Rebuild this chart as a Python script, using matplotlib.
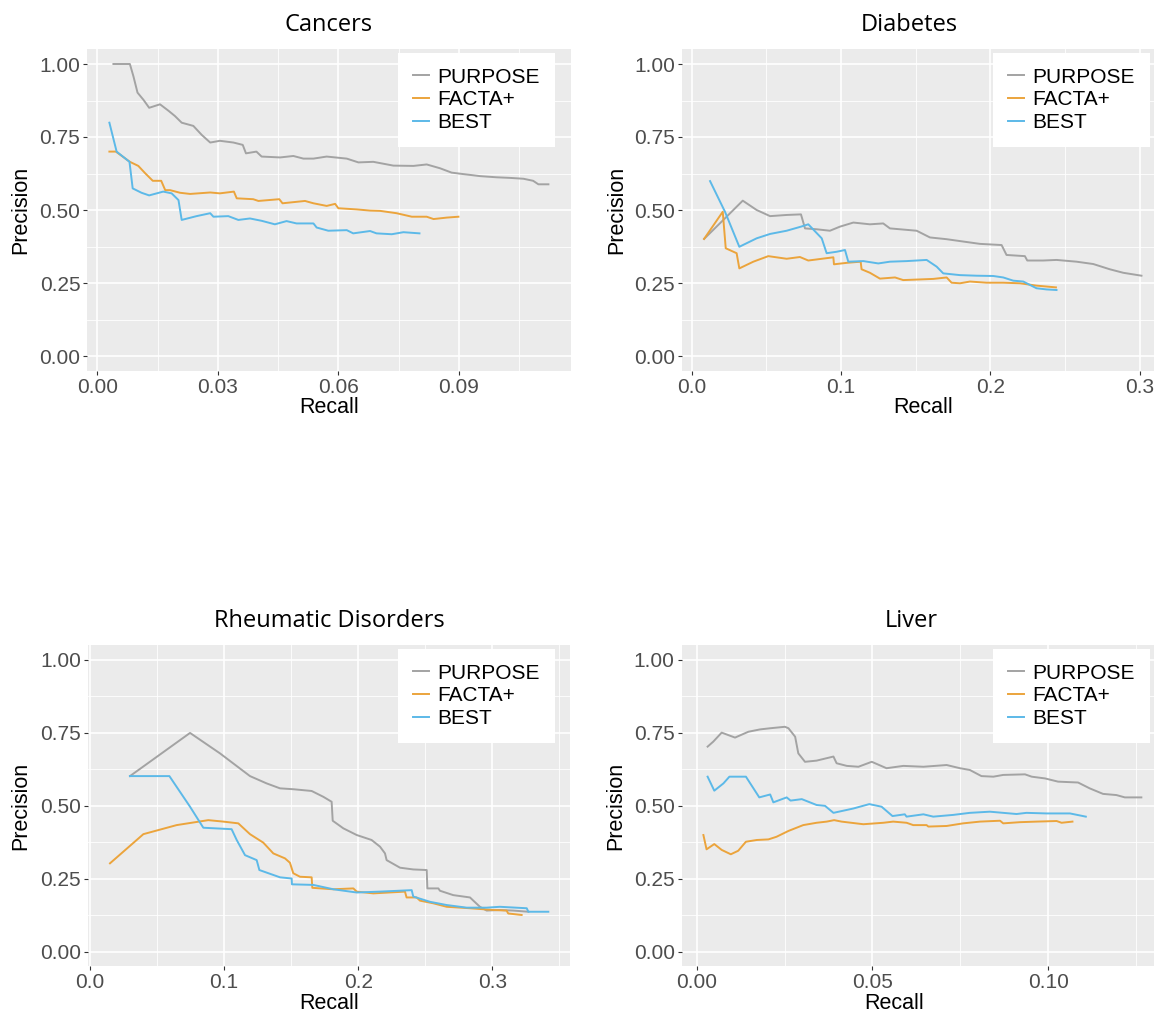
import numpy as np
import matplotlib
matplotlib.use('Agg')
import matplotlib.pyplot as plt

plt.rcParams['font.family'] = ['Liberation Sans', 'DejaVu Sans']

# --- data (recall, precision) ---

methods = ['PURPOSE', 'FACTA+', 'BEST']
colors = ['#a3a3a3', '#eba43c', '#5cb9e8']
titles = ['Cancers', 'Diabetes', 'Rheumatic Disorders', 'Liver']

cancers_purpose_r = [0.0040, 0.0081, 0.0090, 0.0100, 0.0115, 0.0129, 0.0156, 0.0177, 0.0193, 0.0210,
                     0.0239, 0.0260, 0.0281, 0.0305, 0.0339, 0.0362, 0.0370, 0.0396, 0.0409, 0.0455,
                     0.0488, 0.0513, 0.0538, 0.0571, 0.0621, 0.0650, 0.0687, 0.0737, 0.0787, 0.0820,
                     0.0853, 0.0882, 0.0911, 0.0953, 0.0994, 0.1027, 0.1061, 0.1085, 0.1098, 0.1123]
cancers_purpose_p = [1.000, 1.000, 0.957, 0.902, 0.877, 0.850, 0.862, 0.840, 0.822, 0.799,
                     0.788, 0.757, 0.731, 0.737, 0.731, 0.723, 0.694, 0.700, 0.683, 0.680,
                     0.685, 0.676, 0.676, 0.683, 0.676, 0.663, 0.665, 0.652, 0.651, 0.656,
                     0.643, 0.628, 0.623, 0.616, 0.612, 0.610, 0.607, 0.600, 0.588, 0.588]
cancers_facta_r = [0.0030, 0.0046, 0.0081, 0.0102, 0.0119, 0.0138, 0.0159, 0.0169, 0.0181, 0.0206,
                   0.0231, 0.0281, 0.0305, 0.0340, 0.0347, 0.0388, 0.0401, 0.0453, 0.0461, 0.0517,
                   0.0538, 0.0571, 0.0592, 0.0600, 0.0646, 0.0679, 0.0704, 0.0745, 0.0783, 0.0820,
                   0.0837, 0.0870, 0.0899]
cancers_facta_p = [0.700, 0.700, 0.665, 0.651, 0.626, 0.600, 0.600, 0.568, 0.568, 0.559,
                   0.555, 0.560, 0.557, 0.563, 0.540, 0.537, 0.531, 0.537, 0.523, 0.531,
                   0.523, 0.514, 0.521, 0.506, 0.502, 0.498, 0.497, 0.489, 0.477, 0.477,
                   0.469, 0.474, 0.477]
cancers_best_r = [0.0030, 0.0048, 0.0080, 0.0088, 0.0110, 0.0129, 0.0164, 0.0185, 0.0202, 0.0210,
                  0.0247, 0.0281, 0.0289, 0.0326, 0.0351, 0.0380, 0.0409, 0.0442, 0.0471, 0.0496,
                  0.0538, 0.0546, 0.0575, 0.0621, 0.0637, 0.0679, 0.0695, 0.0733, 0.0762, 0.0802]
cancers_best_p = [0.799, 0.700, 0.665, 0.574, 0.559, 0.550, 0.563, 0.557, 0.534, 0.466,
                  0.479, 0.489, 0.477, 0.479, 0.466, 0.471, 0.463, 0.451, 0.462, 0.454,
                  0.454, 0.440, 0.429, 0.431, 0.420, 0.428, 0.420, 0.417, 0.424, 0.420]

diabetes_purpose_r = [0.0083, 0.0212, 0.0342, 0.0435, 0.0525, 0.0636, 0.0732, 0.0759, 0.0837, 0.0926,
                      0.0993, 0.1083, 0.1194, 0.1283, 0.1328, 0.1507, 0.1596, 0.1708, 0.1819, 0.1931,
                      0.2076, 0.2109, 0.2232, 0.2248, 0.2355, 0.2444, 0.2578, 0.2690, 0.2801, 0.2891,
                      0.3013]
diabetes_purpose_p = [0.401, 0.466, 0.532, 0.500, 0.479, 0.483, 0.485, 0.437, 0.434, 0.429,
                      0.443, 0.457, 0.451, 0.454, 0.437, 0.429, 0.406, 0.400, 0.392, 0.384,
                      0.380, 0.346, 0.342, 0.327, 0.327, 0.329, 0.323, 0.315, 0.297, 0.285,
                      0.275]
diabetes_facta_r = [0.0083, 0.0208, 0.0228, 0.0301, 0.0319, 0.0413, 0.0513, 0.0636, 0.0725, 0.0781,
                    0.0949, 0.0953, 0.1038, 0.1132, 0.1138, 0.1194, 0.1261, 0.1362, 0.1417, 0.1618,
                    0.1708, 0.1741, 0.1797, 0.1864, 0.1975, 0.2087, 0.2199, 0.2310, 0.2440]
diabetes_facta_p = [0.401, 0.494, 0.369, 0.352, 0.300, 0.323, 0.342, 0.333, 0.339, 0.327,
                    0.338, 0.314, 0.319, 0.323, 0.297, 0.285, 0.265, 0.269, 0.260, 0.264,
                    0.269, 0.251, 0.249, 0.255, 0.251, 0.251, 0.249, 0.241, 0.235]
diabetes_best_r = [0.0123, 0.0223, 0.0319, 0.0435, 0.0525, 0.0636, 0.0732, 0.0781, 0.0871, 0.0904,
                   0.0971, 0.1027, 0.1049, 0.1150, 0.1250, 0.1328, 0.1440, 0.1574, 0.1641, 0.1685,
                   0.1797, 0.1908, 0.2020, 0.2087, 0.2154, 0.2221, 0.2310, 0.2377, 0.2444]
diabetes_best_p = [0.599, 0.494, 0.374, 0.403, 0.418, 0.429, 0.443, 0.451, 0.403, 0.352,
                   0.357, 0.363, 0.323, 0.325, 0.317, 0.323, 0.325, 0.329, 0.306, 0.283,
                   0.277, 0.275, 0.274, 0.269, 0.258, 0.255, 0.232, 0.228, 0.226]

rheum_purpose_r = [0.0298, 0.0746, 0.0969, 0.1193, 0.1317, 0.1417, 0.1516, 0.1653, 0.1740, 0.1802,
                   0.1810, 0.1889, 0.1989, 0.2100, 0.2163, 0.2200, 0.2212, 0.2312, 0.2411, 0.2511,
                   0.2516, 0.2598, 0.2610, 0.2709, 0.2834, 0.2859, 0.2908, 0.2958, 0.3057, 0.3157,
                   0.3269]
rheum_purpose_p = [0.602, 0.750, 0.680, 0.602, 0.577, 0.560, 0.557, 0.551, 0.531, 0.514,
                   0.449, 0.423, 0.400, 0.383, 0.360, 0.337, 0.314, 0.288, 0.282, 0.280,
                   0.217, 0.217, 0.209, 0.194, 0.186, 0.175, 0.154, 0.141, 0.143, 0.141,
                   0.137]
rheum_facta_r = [0.0149, 0.0398, 0.0646, 0.0882, 0.0994, 0.1106, 0.1193, 0.1292, 0.1367, 0.1454,
                 0.1491, 0.1516, 0.1566, 0.1653, 0.1658, 0.1815, 0.1964, 0.1989, 0.2113, 0.2349,
                 0.2361, 0.2436, 0.2461, 0.2560, 0.2660, 0.2834, 0.3008, 0.3107, 0.3119, 0.3219]
rheum_facta_p = [0.303, 0.403, 0.434, 0.451, 0.446, 0.440, 0.403, 0.374, 0.337, 0.320,
                 0.305, 0.269, 0.257, 0.255, 0.219, 0.214, 0.217, 0.206, 0.200, 0.206,
                 0.186, 0.186, 0.175, 0.166, 0.154, 0.149, 0.143, 0.141, 0.131, 0.126]
rheum_best_r = [0.0298, 0.0592, 0.0746, 0.0845, 0.1056, 0.1094, 0.1156, 0.1243, 0.1263, 0.1417,
                0.1504, 0.1506, 0.1665, 0.1815, 0.1989, 0.2163, 0.2399, 0.2411, 0.2536, 0.2660,
                0.2809, 0.2958, 0.3057, 0.3257, 0.3269, 0.3418]
rheum_best_p = [0.602, 0.602, 0.497, 0.425, 0.420, 0.383, 0.331, 0.314, 0.280, 0.255,
                0.251, 0.231, 0.229, 0.214, 0.203, 0.206, 0.211, 0.189, 0.171, 0.160,
                0.151, 0.151, 0.154, 0.149, 0.137, 0.137]

liver_purpose_r = [0.0031, 0.0047, 0.0071, 0.0109, 0.0147, 0.0180, 0.0209, 0.0251, 0.0261, 0.0280,
                   0.0289, 0.0308, 0.0341, 0.0389, 0.0398, 0.0427, 0.0460, 0.0498, 0.0540, 0.0588,
                   0.0645, 0.0711, 0.0749, 0.0777, 0.0810, 0.0844, 0.0872, 0.0934, 0.0953, 0.0991,
                   0.1028, 0.1085, 0.1118, 0.1156, 0.1194, 0.1218, 0.1265]
liver_purpose_p = [0.703, 0.720, 0.751, 0.734, 0.754, 0.762, 0.766, 0.771, 0.766, 0.737,
                   0.680, 0.651, 0.655, 0.669, 0.646, 0.637, 0.634, 0.651, 0.629, 0.637,
                   0.634, 0.640, 0.629, 0.623, 0.602, 0.600, 0.606, 0.608, 0.600, 0.594,
                   0.583, 0.580, 0.560, 0.541, 0.537, 0.529, 0.529]
liver_facta_r = [0.0019, 0.0028, 0.0050, 0.0071, 0.0097, 0.0118, 0.0140, 0.0171, 0.0204, 0.0227,
                 0.0261, 0.0303, 0.0341, 0.0370, 0.0391, 0.0412, 0.0474, 0.0531, 0.0559, 0.0597,
                 0.0616, 0.0654, 0.0659, 0.0711, 0.0758, 0.0806, 0.0863, 0.0872, 0.0919, 0.0967,
                 0.1024, 0.1038, 0.1069]
liver_facta_p = [0.400, 0.351, 0.369, 0.349, 0.334, 0.346, 0.377, 0.383, 0.385, 0.394,
                 0.414, 0.434, 0.442, 0.446, 0.451, 0.446, 0.437, 0.442, 0.446, 0.442,
                 0.434, 0.434, 0.429, 0.431, 0.440, 0.446, 0.449, 0.440, 0.444, 0.446,
                 0.448, 0.442, 0.446]
liver_best_r = [0.0031, 0.0050, 0.0076, 0.0093, 0.0140, 0.0178, 0.0209, 0.0218, 0.0256, 0.0267,
                0.0299, 0.0341, 0.0365, 0.0389, 0.0446, 0.0491, 0.0526, 0.0557, 0.0592, 0.0597,
                0.0645, 0.0673, 0.0730, 0.0777, 0.0834, 0.0872, 0.0910, 0.0938, 0.0995, 0.1062,
                0.1107]
liver_best_p = [0.600, 0.552, 0.577, 0.600, 0.600, 0.529, 0.539, 0.512, 0.529, 0.518,
                0.523, 0.503, 0.500, 0.476, 0.491, 0.506, 0.497, 0.465, 0.471, 0.463,
                0.471, 0.463, 0.469, 0.476, 0.480, 0.476, 0.472, 0.476, 0.474, 0.474,
                0.463]

x_ticks = [[0.0, 0.03, 0.06, 0.09], [0.0, 0.1, 0.2, 0.3], [0.0, 0.1, 0.2, 0.3], [0.0, 0.05, 0.10]]
x_ticklabels = [['0.00', '0.03', '0.06', '0.09'], ['0.0', '0.1', '0.2', '0.3'],
                ['0.0', '0.1', '0.2', '0.3'], ['0.00', '0.05', '0.10']]
y_ticks = [0.0, 0.25, 0.5, 0.75, 1.0]
y_ticklabels = ['0.00', '0.25', '0.50', '0.75', '1.00']

series = [
    [(cancers_purpose_r, cancers_purpose_p), (cancers_facta_r, cancers_facta_p), (cancers_best_r, cancers_best_p)],
    [(diabetes_purpose_r, diabetes_purpose_p), (diabetes_facta_r, diabetes_facta_p), (diabetes_best_r, diabetes_best_p)],
    [(rheum_purpose_r, rheum_purpose_p), (rheum_facta_r, rheum_facta_p), (rheum_best_r, rheum_best_p)],
    [(liver_purpose_r, liver_purpose_p), (liver_facta_r, liver_facta_p), (liver_best_r, liver_best_p)],
]

# --- layout (pixels of a 1154x1015 figure) ---
W, H = 1154, 1015
# left, right, top, bottom of each panel
boxes = [(87.3, 570.5, 49.4, 370.6), (682.0, 1154.0, 49.4, 370.6),
         (88.0, 570.3, 645.4, 966.3), (681.6, 1154.0, 645.4, 966.3)]
xlims = [(-0.0025, 0.1178), (-0.0065, 0.3097), (-0.0015, 0.3582), (-0.0043, 0.1301)]
title_x = [0.5, 0.481, 0.5, 0.486]
xlabel_x = [0.5, 0.511, 0.5, 0.45]
legend_left = [398, 993, 398, 993]
legend_top = [53, 53, 649, 649]

fig = plt.figure(figsize=(W / 100, H / 100), dpi=100)

for i in range(4):
    l, r, t, b = boxes[i]
    ax = fig.add_axes([l / W, 1 - b / H, (r - l) / W, (b - t) / H])
    ax.set_facecolor('#ebebeb')
    for s in ax.spines.values():
        s.set_visible(False)

    for (rx, py), name, c in zip(series[i], methods, colors):
        ax.plot(rx, py, color=c, lw=1.4, label=name)

    ax.set_xticks(x_ticks[i])
    ax.set_xticklabels(x_ticklabels[i])
    ax.set_yticks(y_ticks)
    ax.set_yticklabels(y_ticklabels)
    step = x_ticks[i][1] - x_ticks[i][0]
    minor_x = np.arange(x_ticks[i][0] - step / 2, xlims[i][1], step)
    ax.set_xticks(minor_x, minor=True)
    ax.set_yticks(np.arange(-0.125, 1.05, 0.25), minor=True)
    ax.set_xlim(*xlims[i])
    ax.set_ylim(-0.05, 1.05)
    ax.grid(which='major', color='white', lw=1.2)
    ax.grid(which='minor', color='white', lw=0.6)
    ax.set_axisbelow(True)
    ax.tick_params(which='minor', length=0)
    ax.tick_params(which='major', length=3, width=0.8, color='#333333',
                   labelsize=15, labelcolor='#4d4d4d', pad=2)

    ax.set_title(titles[i], fontsize=17, family='Open Sans', x=title_x[i], pad=13)
    ax.set_xlabel('Recall', fontsize=15.5)
    ax.set_ylabel('Precision', fontsize=15.5)
    ax.xaxis.set_label_coords(xlabel_x[i], -0.082)
    ax.yaxis.set_label_coords(-0.117, 0.5)

    leg = ax.legend(loc='upper left', bbox_to_anchor=(legend_left[i] / W, 1 - legend_top[i] / H),
                    bbox_transform=fig.transFigure, fontsize=15, frameon=True, fancybox=False,
                    framealpha=1, edgecolor='white', borderaxespad=0, borderpad=0.7,
                    labelspacing=0.18, handlelength=0.8, handletextpad=0.4)
    leg.get_frame().set_linewidth(0)

fig.savefig('out.png', dpi=100)
